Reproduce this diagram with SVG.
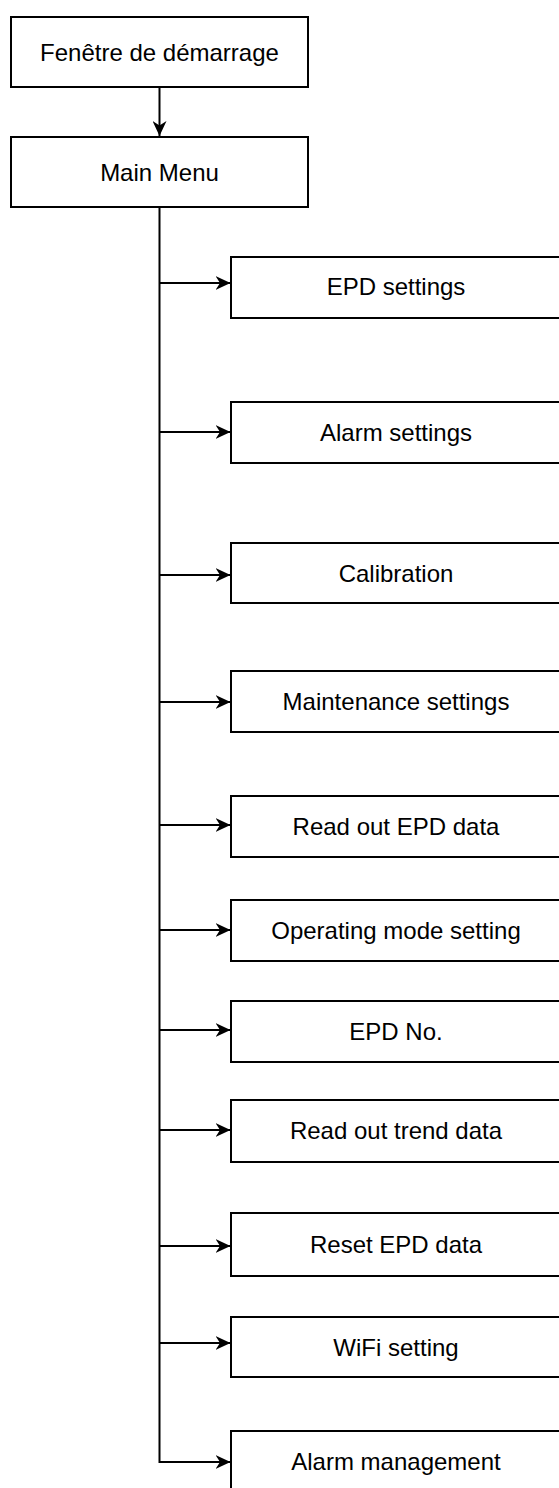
<svg xmlns="http://www.w3.org/2000/svg" width="559" height="1488" viewBox="0 0 559 1488">
  <style>
    .box { fill: #ffffff; stroke: #000000; stroke-width: 2; }
    .lbl { font-family: "Liberation Sans", Arial, sans-serif; font-size: 24px; fill: #000000; text-anchor: middle; }
    .conn { fill: none; stroke: #000000; stroke-width: 2; }
  </style>
  <defs>
    <marker id="arr" viewBox="0 0 15 14" refX="15" refY="7" markerWidth="15" markerHeight="14" markerUnits="userSpaceOnUse" orient="auto">
      <path d="M15,7 L0,0 L4.5,7 L0,14 Z" fill="#000000"/>
    </marker>
  </defs>
  <rect width="559" height="1488" fill="#ffffff"/>

  <g id="connectors">
    <line class="conn" x1="159.5" y1="87" x2="159.5" y2="136" marker-end="url(#arr)"/>
    <path class="conn" d="M159.5,207 V1462 H230.5" marker-end="url(#arr)"/>
    <line class="conn" x1="159.5" y1="283" x2="230.5" y2="283" marker-end="url(#arr)"/>
    <line class="conn" x1="159.5" y1="432" x2="230.5" y2="432" marker-end="url(#arr)"/>
    <line class="conn" x1="159.5" y1="575" x2="230.5" y2="575" marker-end="url(#arr)"/>
    <line class="conn" x1="159.5" y1="702" x2="230.5" y2="702" marker-end="url(#arr)"/>
    <line class="conn" x1="159.5" y1="825" x2="230.5" y2="825" marker-end="url(#arr)"/>
    <line class="conn" x1="159.5" y1="930" x2="230.5" y2="930" marker-end="url(#arr)"/>
    <line class="conn" x1="159.5" y1="1030" x2="230.5" y2="1030" marker-end="url(#arr)"/>
    <line class="conn" x1="159.5" y1="1130" x2="230.5" y2="1130" marker-end="url(#arr)"/>
    <line class="conn" x1="159.5" y1="1246" x2="230.5" y2="1246" marker-end="url(#arr)"/>
    <line class="conn" x1="159.5" y1="1343" x2="230.5" y2="1343" marker-end="url(#arr)"/>
  </g>

  <g id="start">
    <rect class="box" x="11" y="17" width="297" height="70"/>
    <text class="lbl" x="159.5" y="61">Fenêtre de démarrage</text>
  </g>
  <g id="main-menu">
    <rect class="box" x="11" y="137" width="297" height="70"/>
    <text class="lbl" x="159.5" y="181">Main Menu</text>
  </g>
  <g id="epd-settings">
    <rect class="box" x="231" y="257" width="332" height="61"/>
    <text class="lbl" x="396" y="295">EPD settings</text>
  </g>
  <g id="alarm-settings">
    <rect class="box" x="231" y="402" width="332" height="61"/>
    <text class="lbl" x="396" y="441">Alarm settings</text>
  </g>
  <g id="calibration">
    <rect class="box" x="231" y="543" width="332" height="60"/>
    <text class="lbl" x="396" y="582">Calibration</text>
  </g>
  <g id="maintenance-settings">
    <rect class="box" x="231" y="671" width="332" height="61"/>
    <text class="lbl" x="396" y="710">Maintenance settings</text>
  </g>
  <g id="read-out-epd-data">
    <rect class="box" x="231" y="796" width="332" height="61"/>
    <text class="lbl" x="396" y="835">Read out EPD data</text>
  </g>
  <g id="operating-mode-setting">
    <rect class="box" x="231" y="900" width="332" height="61"/>
    <text class="lbl" x="396" y="939">Operating mode setting</text>
  </g>
  <g id="epd-no">
    <rect class="box" x="231" y="1001" width="332" height="61"/>
    <text class="lbl" x="396" y="1040">EPD No.</text>
  </g>
  <g id="read-out-trend-data">
    <rect class="box" x="231" y="1100" width="332" height="62"/>
    <text class="lbl" x="396" y="1139">Read out trend data</text>
  </g>
  <g id="reset-epd-data">
    <rect class="box" x="231" y="1213" width="332" height="63"/>
    <text class="lbl" x="396" y="1253">Reset EPD data</text>
  </g>
  <g id="wifi-setting">
    <rect class="box" x="231" y="1317" width="332" height="60"/>
    <text class="lbl" x="396" y="1356">WiFi setting</text>
  </g>
  <g id="alarm-management">
    <rect class="box" x="231" y="1431" width="332" height="62"/>
    <text class="lbl" x="396" y="1470">Alarm management</text>
  </g>
</svg>
